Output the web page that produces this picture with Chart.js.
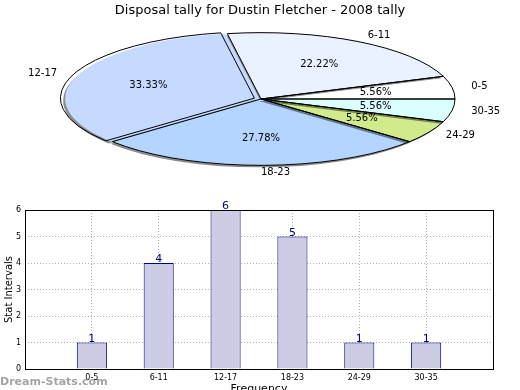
<!DOCTYPE html>
<html>
<head>
<meta charset="utf-8">
<script src="https://cdn.jsdelivr.net/npm/chart.js@4.4.1/dist/chart.umd.min.js"></script>
<style>
  html, body { margin: 0; padding: 0; background: #fff; }
  #wrap { position: relative; width: 520px; height: 390px; overflow: hidden; }
  #wrap canvas { position: absolute; left: 0; top: 0; }
  #pieChart { pointer-events: none; }
</style>
</head>
<body>
<div id="wrap">
  <canvas id="barChart" width="520" height="390"></canvas>
  <canvas id="pieChart" width="520" height="390"></canvas>
</div>
<script>
// data
const intervals = ['0-5', '6-11', '12-17', '18-23', '24-29', '30-35'];
const tallies = [1, 4, 6, 5, 1, 1];
const sliceColors = ['#ffffff', '#eaf2ff', '#c6d9ff', '#b4d5ff', '#d0ea8c', '#dbffff'];
const sliceOffsets = [0, 0, 7, 0, 0, 0];
const yTicks = [0, 1, 2, 3, 4, 5, 6];

const FONT = "'DejaVu Sans', sans-serif";

// where the flattened pie sits and how much it is squashed
const PIE_X = 261;
const PIE_Y = 99;
const PIE_R = 194;
const TILT = 0.342;

function tilt(ctx, arc) {
    ctx.translate(PIE_X, PIE_Y);
    ctx.scale(1, -TILT);
    ctx.translate(-arc.x, -arc.y);
}

const flatPie = {
    id: 'flatPie',
    beforeDatasetsDraw(chart) {
        const arc = chart.getDatasetMeta(0).data[0];
        const ctx = chart.ctx;
        ctx.save();
        tilt(ctx, arc);
        ctx.shadowColor = 'rgba(0,0,0,0.45)';
        ctx.shadowOffsetX = -2;
        ctx.shadowOffsetY = 2;
        ctx.shadowBlur = 0;
    },
    afterDatasetsDraw(chart) {
        const ctx = chart.ctx;
        ctx.restore();
        const arcs = chart.getDatasetMeta(0).data;
        const total = tallies.reduce((a, b) => a + b, 0);

        // outlines, built in tilted space but stroked flat so the line stays 1px
        arcs.forEach(arc => {
            const mid = (arc.startAngle + arc.endAngle) / 2;
            const off = arc.options.offset || 0;
            const x = arc.x + off * Math.cos(mid);
            const y = arc.y + off * Math.sin(mid);
            ctx.save();
            tilt(ctx, arc);
            ctx.beginPath();
            ctx.moveTo(x, y);
            ctx.arc(x, y, arc.outerRadius, arc.startAngle, arc.endAngle);
            ctx.closePath();
            ctx.restore();
            ctx.lineWidth = 1;
            ctx.strokeStyle = '#000';
            ctx.stroke();
        });

        ctx.save();
        ctx.fillStyle = '#000';
        ctx.font = '10px ' + FONT;
        ctx.textBaseline = 'middle';
        arcs.forEach((arc, i) => {
            const mid = (arc.startAngle + arc.endAngle) / 2;
            const off = (arc.options.offset || 0) / 2;
            const cx = PIE_X + off * Math.cos(mid);
            const cy = PIE_Y - TILT * off * Math.sin(mid);
            const r = arc.outerRadius;
            const pct = (tallies[i] / total * 100).toFixed(2) + '%';
            ctx.textAlign = 'center';
            ctx.fillText(pct, cx + 0.6 * r * Math.cos(mid), cy - 0.6 * r * TILT * Math.sin(mid));
            ctx.textAlign = Math.cos(mid) > -1e-9 ? 'left' : 'right';
            ctx.fillText(intervals[i], cx + 1.1 * r * Math.cos(mid), cy - 1.1 * r * TILT * Math.sin(mid));
        });
        ctx.restore();
    }
};

new Chart(document.getElementById('pieChart'), {
    type: 'pie',
    data: {
        labels: intervals,
        datasets: [{
            data: tallies,
            backgroundColor: sliceColors,
            borderWidth: 0,
            offset: sliceOffsets,
            clip: false
        }]
    },
    options: {
        responsive: false,
        animation: false,
        rotation: 90,
        radius: PIE_R,
        events: [],
        plugins: {
            legend: { display: false },
            tooltip: { enabled: false },
            title: {
                display: true,
                text: 'Disposal tally for Dustin Fletcher - 2008 tally',
                color: '#000',
                font: { family: FONT, size: 13, weight: 'normal' },
                padding: { top: 3, bottom: 4 }
            }
        }
    },
    plugins: [flatPie]
});

const barExtras = {
    id: 'barExtras',
    afterDatasetsDraw(chart) {
        const ctx = chart.ctx;
        const bars = chart.getDatasetMeta(0).data;
        ctx.save();
        ctx.fillStyle = '#000080';
        ctx.font = '11px ' + FONT;
        ctx.textAlign = 'center';
        ctx.textBaseline = 'bottom';
        bars.forEach((bar, i) => {
            ctx.fillText(String(tallies[i]), bar.x, bar.y + 2);
        });
        ctx.restore();
    },
    afterDraw(chart) {
        const ctx = chart.ctx;
        const a = chart.chartArea;
        ctx.save();
        ctx.strokeStyle = '#000';
        ctx.lineWidth = 1;
        ctx.strokeRect(Math.round(a.left) + 0.5, Math.round(a.top) + 0.5,
            Math.round(a.right - a.left), Math.round(a.bottom - a.top));
        ctx.fillStyle = '#000';
        ctx.font = '11px ' + FONT;
        ctx.textAlign = 'center';
        ctx.textBaseline = 'top';
        ctx.fillText('Frequency', (a.left + a.right) / 2, 384);
        ctx.fillStyle = 'rgba(125,125,125,0.7)';
        ctx.font = 'bold 11px ' + FONT;
        ctx.textAlign = 'left';
        ctx.textBaseline = 'alphabetic';
        ctx.fillText('Dream-Stats.com', 0, 385);
        ctx.restore();
    }
};

new Chart(document.getElementById('barChart'), {
    type: 'bar',
    data: {
        datasets: [{
            data: tallies.map((v, i) => ({ x: i + 1, y: v })),
            backgroundColor: '#ccccE5',
            borderColor: '#000080',
            borderWidth: 1,
            categoryPercentage: 1,
            barPercentage: 0.45
        }]
    },
    options: {
        responsive: false,
        animation: false,
        events: [],
        layout: { padding: { top: 210, right: 27, left: 0, bottom: 0 } },
        plugins: {
            legend: { display: false },
            tooltip: { enabled: false }
        },
        scales: {
            x: {
                type: 'linear',
                min: 0,
                max: intervals.length + 1,
                offset: false,
                z: 1,
                afterFit(scale) { scale.height = 21; },
                afterBuildTicks(scale) {
                    scale.ticks = intervals.map((_, i) => ({ value: i + 1 }));
                },
                grid: { color: '#b0b0b0', drawTicks: false, offset: false },
                border: { display: false, dash: [1, 2] },
                ticks: {
                    padding: 4,
                    color: '#000',
                    font: { family: FONT, size: 8 },
                    callback: v => intervals[v - 1] || ''
                }
            },
            y: {
                min: 0,
                max: 6,
                z: 1,
                afterFit(scale) { scale.width = 25; },
                afterBuildTicks(scale) {
                    scale.ticks = yTicks.map(v => ({ value: v }));
                },
                grid: { color: '#b0b0b0', drawTicks: false },
                border: { display: false, dash: [1, 2] },
                ticks: {
                    padding: 4,
                    color: '#000',
                    font: { family: FONT, size: 8 }
                },
                title: {
                    display: true,
                    text: 'Stat Intervals',
                    color: '#000',
                    font: { family: FONT, size: 10 },
                    padding: { top: 3, bottom: 0 }
                }
            }
        }
    },
    plugins: [barExtras]
});
</script>
</body>
</html>
